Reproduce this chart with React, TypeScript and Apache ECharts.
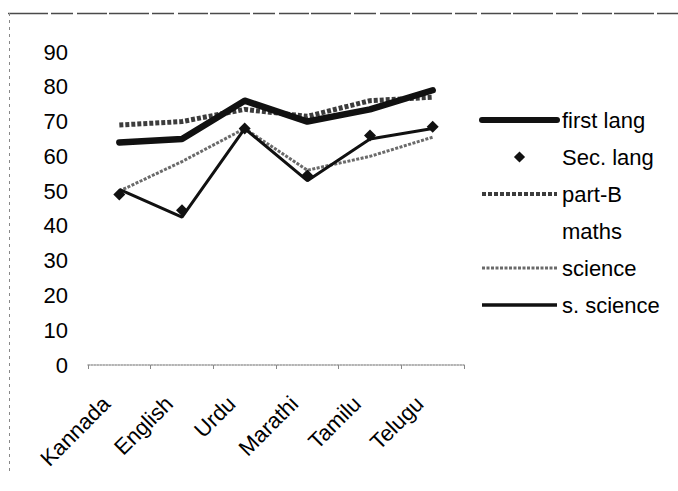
import React, { useEffect, useRef } from "react";
import * as echarts from "echarts";

const categories = ["Kannada", "English", "Urdu", "Marathi", "Tamilu", "Telugu"];
const firstLang = [64, 65, 76, 70, 73.5, 79];
const secLang = [49, 44.5, 68, 54.5, 66, 68.5];
const partB = [69, 70, 73.5, 71.5, 76, 77];
const maths: (number | null)[] = [null, null, null, null, null, null];
const science = [50, 58.5, 68, 56, 60, 65.5];
const sScience = [50.5, 42.5, 68, 53, 65, 68];
const yTicks = { min: 0, max: 90, interval: 10 };

const FONT = "'Liberation Sans', Arial, sans-serif";

export default function App() {
  const ref = useRef<HTMLDivElement>(null);
  useEffect(() => {
    if (!ref.current) return;
    const chart = echarts.init(ref.current, null, { renderer: "svg" });
    const hideSym = { opacity: 0 };
    chart.setOption({
      animation: false,
      backgroundColor: "#ffffff",
      textStyle: { fontFamily: FONT },
      grid: [
        { left: 88, top: 52, width: 376, height: 313, containLabel: false },
        { left: 75, top: 52, width: 376, height: 313, containLabel: false },
      ],
      legend: {
        orient: "vertical",
        left: 474,
        top: 104,
        itemWidth: 75,
        itemHeight: 14,
        itemGap: 15,
        lineStyle: { width: "inherit" },
        textStyle: { fontSize: 22, lineHeight: 22, color: "#000", fontFamily: FONT },
        data: [
          { name: "first lang", itemStyle: hideSym, lineStyle: { width: 6 } },
          { name: "Sec. lang" },
          { name: "part-B", itemStyle: hideSym, lineStyle: { width: 4 } },
          { name: "maths", itemStyle: hideSym },
          { name: "science", itemStyle: hideSym, lineStyle: { width: 3 } },
          { name: "s. science", itemStyle: hideSym, lineStyle: { width: 3.5 } },
        ],
      },
      xAxis: [
        {
          type: "category",
          gridIndex: 0,
          data: categories,
          boundaryGap: true,
          axisLine: { show: true, lineStyle: { color: "#9a9a9a", width: 1.5, type: "dotted" } },
          axisTick: { show: true, length: 4, lineStyle: { color: "#888" } },
          axisLabel: { show: false },
          splitLine: { show: false },
        },
        {
          type: "category",
          gridIndex: 1,
          data: categories,
          boundaryGap: true,
          axisLine: { show: false },
          axisTick: { show: false },
          axisLabel: {
            rotate: 45,
            margin: 35,
            fontSize: 22,
            color: "#000",
            fontFamily: FONT,
            interval: 0,
          },
          splitLine: { show: false },
        },
      ],
      yAxis: [
        {
          type: "value",
          gridIndex: 0,
          min: yTicks.min,
          max: yTicks.max,
          interval: yTicks.interval,
          axisLine: { show: false },
          axisTick: { show: false },
          splitLine: { show: false },
          axisLabel: { fontSize: 22, color: "#000", margin: 20, fontFamily: FONT },
        },
        {
          type: "value",
          gridIndex: 1,
          min: yTicks.min,
          max: yTicks.max,
          interval: yTicks.interval,
          show: false,
        },
      ],
      graphic: [
        {
          type: "line",
          shape: { x1: 8, y1: 13.5, x2: 678, y2: 13.5 },
          style: { stroke: "#4a4a4a", lineWidth: 1.5, lineDash: [40, 3, 22, 4, 30, 2] },
        },
        {
          type: "line",
          shape: { x1: 9.5, y1: 13, x2: 9.5, y2: 472 },
          style: { stroke: "#888", lineWidth: 1, lineDash: [3, 4] },
        },
      ],
      series: [
        {
          name: "maths",
          type: "line",
          data: maths,
          symbol: "none",
          lineStyle: { opacity: 0 },
          itemStyle: { color: "#ffffff", opacity: 0 },
        },
        {
          name: "part-B",
          type: "line",
          data: partB,
          symbol: "none",
          lineStyle: { color: "#3c3c3c", width: 5, type: [4, 2] },
          itemStyle: { color: "#3c3c3c" },
        },
        {
          name: "first lang",
          type: "line",
          data: firstLang,
          symbol: "none",
          lineStyle: { color: "#111", width: 6.5, cap: "round", join: "round" },
          itemStyle: { color: "#111" },
        },
        {
          name: "science",
          type: "line",
          data: science,
          symbol: "none",
          lineStyle: { color: "#6a6a6a", width: 3, type: [3, 1.5] },
          itemStyle: { color: "#6a6a6a" },
        },
        {
          name: "Sec. lang",
          type: "line",
          data: secLang,
          symbol: "diamond",
          symbolSize: 12,
          lineStyle: { opacity: 0 },
          itemStyle: { color: "#111" },
        },
        {
          name: "s. science",
          type: "line",
          data: sScience,
          symbol: "none",
          lineStyle: { color: "#111", width: 3 },
          itemStyle: { color: "#111" },
        },
      ],
    });
    return () => chart.dispose();
  }, []);
  return (
    <div
      ref={ref}
      style={{ position: "fixed", left: 0, top: 0, width: 678, height: 491 }}
    />
  );
}
